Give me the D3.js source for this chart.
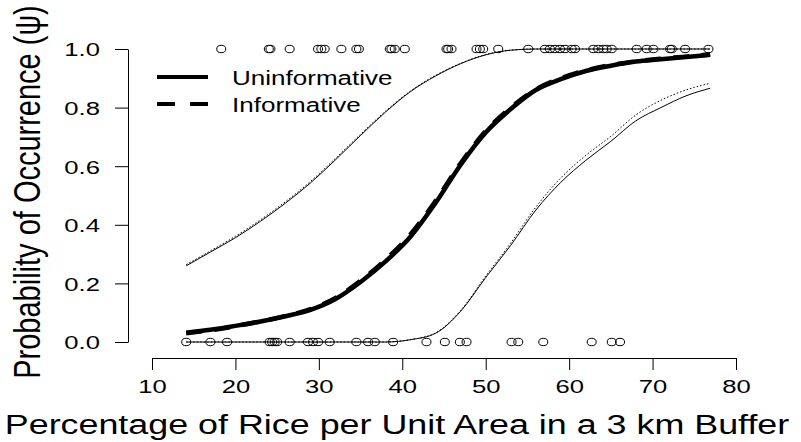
<!DOCTYPE html>
<html>
<head>
<meta charset="utf-8">
<script src="https://cdn.jsdelivr.net/npm/d3@7"></script>
<style>
  body { margin: 0; background: #fff; }
  text { font-family: "Liberation Sans", Arial, sans-serif; fill: #000; }
</style>
</head>
<body>
<svg id="chart" width="801" height="442"></svg>
<script>
// observed sites: occupied (psi = 1) and unoccupied (psi = 0)
const presenceX = [18.3, 24.0, 24.2, 26.5, 29.9, 30.3, 30.7, 32.7, 34.5, 34.8, 38.5, 38.7, 39.1, 40.3,
    45.3, 45.5, 45.9, 48.9, 49.3, 49.7, 51.5, 55.1, 57.1, 57.7, 58.3, 58.9, 59.5, 60.3, 60.7,
    62.9, 63.5, 64.1, 64.5, 65.1, 68.1, 69.3, 70.1, 72.1, 72.3, 73.9, 76.7];
const absenceX = [14.1, 17.0, 19.0, 24.1, 24.4, 24.7, 25.0, 26.5, 28.7, 29.3, 29.9, 31.3, 34.5,
    35.9, 36.7, 38.9, 42.9, 45.1, 46.9, 47.7, 53.1, 53.9, 56.9, 62.7, 65.1, 66.1];

// fitted curves
const curveX        = [14.1, 17, 20, 23, 26, 29, 32, 35, 38, 41, 44, 47, 50, 53, 56, 59, 62, 65, 68, 71, 74, 76.9];
const uninformative = [0.032, 0.042, 0.055, 0.070, 0.088, 0.110, 0.147, 0.205, 0.275, 0.360, 0.475, 0.605,
    0.715, 0.795, 0.860, 0.897, 0.925, 0.943, 0.957, 0.965, 0.973, 0.980];
const informative   = [0.030, 0.040, 0.054, 0.070, 0.089, 0.112, 0.150, 0.209, 0.281, 0.368, 0.482, 0.610,
    0.720, 0.800, 0.862, 0.900, 0.927, 0.945, 0.958, 0.967, 0.974, 0.982];
const upperSolid    = [0.260, 0.307, 0.356, 0.412, 0.474, 0.543, 0.622, 0.705, 0.785, 0.855, 0.908, 0.950,
    0.980, 0.996, 1.0, 1.0, 1.0, 1.0, 1.0, 1.0, 1.0, 1.0];
const upperDotted   = [0.264, 0.311, 0.361, 0.417, 0.479, 0.548, 0.627, 0.709, 0.788, 0.857, 0.910, 0.951,
    0.981, 0.996, 1.0, 1.0, 1.0, 1.0, 1.0, 1.0, 1.0, 1.0];
const lowerSolid    = [0, 0, 0, 0, 0, 0, 0, 0, 0, 0.008, 0.030, 0.105, 0.220, 0.330, 0.450, 0.545, 0.620,
    0.685, 0.755, 0.800, 0.840, 0.866];
const lowerDotted   = [0, 0, 0, 0, 0, 0, 0, 0, 0, 0.008, 0.031, 0.108, 0.225, 0.338, 0.460, 0.560, 0.637,
    0.702, 0.775, 0.825, 0.860, 0.883];

const xTicks = [10, 20, 30, 40, 50, 60, 70, 80];
const yTicks = [0, 0.2, 0.4, 0.6, 0.8, 1.0];
const legendLabels = ["Uninformative", "Informative"];

const svg = d3.select("#chart");
const x = d3.scaleLinear().domain([10, 80]).range([152, 736]);
const y = d3.scaleLinear().domain([0, 1]).range([342, 49]);
const stretch = 1.35;   // the figure's text is wider than it is tall

// y axis
const yAxis = svg.append("g")
    .attr("transform", "translate(128,0)")
    .call(d3.axisLeft(y).tickValues(yTicks).tickSize(13).tickSizeOuter(0).tickFormat(d3.format(".1f")));
yAxis.selectAll("text")
    .attr("x", 0).attr("dy", "0.36em")
    .attr("transform", `translate(-28,0) scale(${stretch},1)`)
    .style("font-size", "19px").attr("text-anchor", "end");

// x axis
const xAxis = svg.append("g")
    .attr("transform", "translate(0,358)")
    .call(d3.axisBottom(x).tickValues(xTicks).tickSize(12).tickSizeOuter(0).tickFormat(d3.format("d")));
xAxis.selectAll("text")
    .attr("y", 0).attr("dy", 0)
    .attr("transform", `translate(0,35) scale(${stretch},1)`)
    .style("font-size", "19px");
svg.selectAll(".domain, .tick line").attr("stroke", "#000");

// data points
const pts = presenceX.map(v => ({ x: v, p: 1 })).concat(absenceX.map(v => ({ x: v, p: 0 })));
svg.append("g").selectAll("ellipse")
    .data(pts).join("ellipse")
    .attr("cx", d => x(d.x)).attr("cy", d => y(d.p))
    .attr("rx", 4.5).attr("ry", 3.7)
    .attr("fill", "none").attr("stroke", "#000").attr("stroke-width", 1);

// curves
const line = d3.line().x((d, i) => x(curveX[i])).y(d => y(d)).curve(d3.curveMonotoneX);
const curves = [
    { vals: upperSolid, w: 1, dash: null },
    { vals: upperDotted, w: 1, dash: "1.5,2" },
    { vals: lowerSolid, w: 1, dash: null },
    { vals: lowerDotted, w: 1, dash: "1.5,2" },
    { vals: uninformative, w: 4.5, dash: null },
    { vals: informative, w: 4.5, dash: "16,12" }
];
svg.append("g").selectAll("path")
    .data(curves).join("path")
    .attr("d", d => line(d.vals))
    .attr("fill", "none").attr("stroke", "#000")
    .attr("stroke-width", d => d.w)
    .attr("stroke-dasharray", d => d.dash);

// legend
const legend = svg.append("g");
legendLabels.forEach((lab, i) => {
    const ly = 77 + i * 27;
    legend.append("line")
        .attr("x1", 157).attr("x2", 208).attr("y1", ly).attr("y2", ly)
        .attr("stroke", "#000").attr("stroke-width", 4)
        .attr("stroke-dasharray", i === 1 ? "18,15" : null);
    legend.append("text")
        .attr("transform", `translate(232,${ly}) scale(1.24,1)`)
        .attr("dy", "0.36em")
        .style("font-size", "21px")
        .text(lab);
});

// axis titles
const xt = svg.append("text")
    .style("font-size", "28px").attr("text-anchor", "middle")
    .text("Percentage of Rice per Unit Area in a 3 km Buffer");
const xs = 785 / xt.node().getComputedTextLength();
xt.attr("transform", `translate(397,434) scale(${xs},1)`);

svg.append("text")
    .style("font-size", "29px").attr("text-anchor", "middle")
    .attr("transform", "translate(40,192) scale(1.25,1) rotate(-90)")
    .text("Probability of Occurrence (\u03C8)");
</script>
</body>
</html>
